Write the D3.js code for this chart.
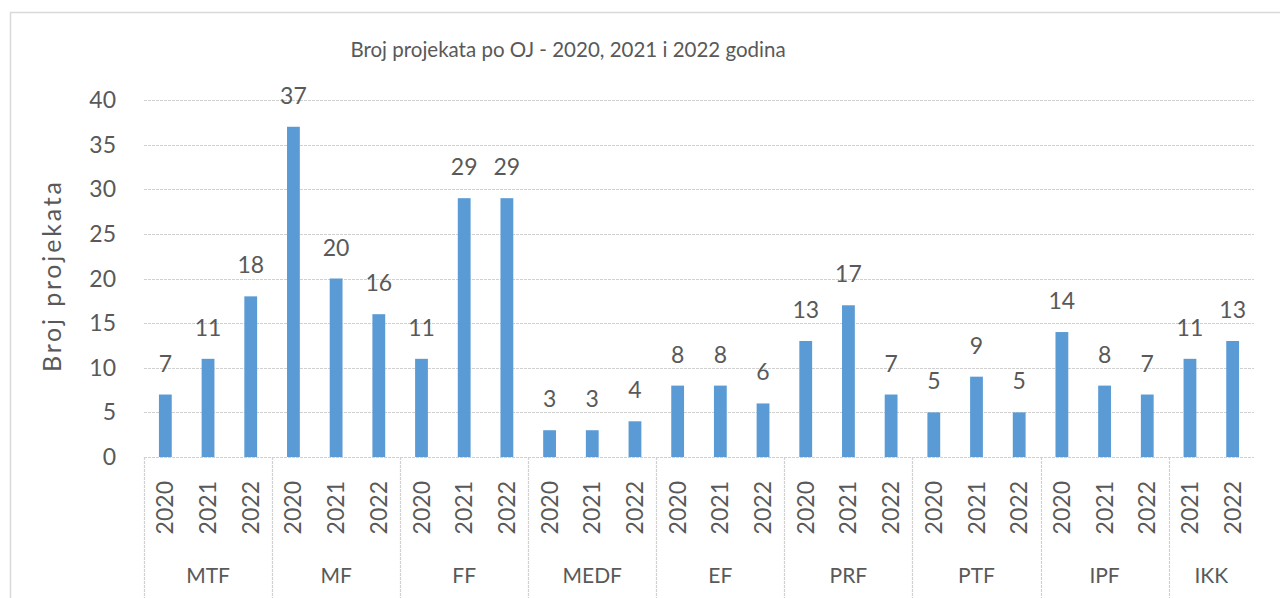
<!DOCTYPE html>
<html>
<head>
<meta charset="utf-8">
<script src="https://cdn.jsdelivr.net/npm/d3@7"></script>
<style>
    body { margin: 0; background: #fff; }
    text { font-family: Lato, "Open Sans", sans-serif; fill: #595959; }
</style>
</head>
<body>
<div id="chart"></div>
<script>
// data for the chart
var groups = ["MTF", "MF", "FF", "MEDF", "EF", "PRF", "PTF", "IPF", "IKK"];
var groupYears = [
    ["2020", "2021", "2022"],
    ["2020", "2021", "2022"],
    ["2020", "2021", "2022"],
    ["2020", "2021", "2022"],
    ["2020", "2021", "2022"],
    ["2020", "2021", "2022"],
    ["2020", "2021", "2022"],
    ["2020", "2021", "2022"],
    ["2021", "2022"]
];
var groupValues = [
    [7, 11, 18],
    [37, 20, 16],
    [11, 29, 29],
    [3, 3, 4],
    [8, 8, 6],
    [13, 17, 7],
    [5, 9, 5],
    [14, 8, 7],
    [11, 13]
];
var yTicks = [0, 5, 10, 15, 20, 25, 30, 35, 40];

var svgWidth = 1280, svgHeight = 598;
var margin = {left: 144, right: 26, top: 100, plotBottom: 457};

var svg = d3.select("#chart").append("svg")
    .attr("width", svgWidth)
    .attr("height", svgHeight);

// outer chart border
svg.append("rect")
    .attr("x", 10.5)
    .attr("y", 12.5)
    .attr("width", 1300)
    .attr("height", 640)
    .attr("fill", "none")
    .attr("stroke", "#d9d9d9")
    .attr("stroke-width", 1.5);

// flatten groups into bar records
var bars = [];
var groupSpans = [];
groups.forEach(function (g, gi) {
    var start = bars.length;
    groupYears[gi].forEach(function (yr, i) {
        bars.push({key: g + "-" + yr, group: g, year: yr, value: groupValues[gi][i]});
    });
    groupSpans.push({name: g, first: bars[start].key, last: bars[bars.length - 1].key});
});

var x = d3.scaleBand()
    .domain(bars.map(function (d) { return d.key; }))
    .range([margin.left, svgWidth - margin.right])
    .paddingInner(0.7)
    .paddingOuter(0.35);

var y = d3.scaleLinear()
    .domain([0, 40])
    .range([margin.plotBottom, margin.top]);

// gridlines
svg.append("g")
    .selectAll("line")
    .data(yTicks)
    .enter()
    .append("line")
    .attr("x1", margin.left)
    .attr("x2", svgWidth - margin.right)
    .attr("y1", function (d) { return Math.round(y(d)) + 0.5; })
    .attr("y2", function (d) { return Math.round(y(d)) + 0.5; })
    .attr("stroke", "#d0d0d0")
    .attr("stroke-width", 1.2)
    .attr("stroke-dasharray", "3,1");

// y tick labels
svg.append("g")
    .selectAll("text")
    .data(yTicks)
    .enter()
    .append("text")
    .attr("x", 116)
    .attr("y", function (d) { return y(d); })
    .attr("dy", "0.35em")
    .attr("text-anchor", "end")
    .style("font-size", "23px")
    .text(function (d) { return d; });

// y axis title
svg.append("text")
    .attr("transform", "translate(61,277) rotate(-90)")
    .attr("text-anchor", "middle")
    .attr("textLength", 190)
    .attr("lengthAdjust", "spacing")
    .style("font-size", "25px")
    .text("Broj projekata");

// title
svg.append("text")
    .attr("x", 568)
    .attr("y", 57)
    .attr("text-anchor", "middle")
    .style("font-size", "20.5px")
    .text("Broj projekata po OJ - 2020, 2021 i 2022 godina");

// bars
svg.append("g")
    .selectAll("rect")
    .data(bars)
    .enter()
    .append("rect")
    .attr("x", function (d) { return x(d.key); })
    .attr("y", function (d) { return y(d.value); })
    .attr("width", x.bandwidth())
    .attr("height", function (d) { return y(0) - y(d.value); })
    .attr("fill", "#5b9bd5");

// data labels
svg.append("g")
    .selectAll("text")
    .data(bars)
    .enter()
    .append("text")
    .attr("x", function (d) { return x(d.key) + x.bandwidth() / 2; })
    .attr("y", function (d) { return y(d.value) - 23; })
    .attr("text-anchor", "middle")
    .style("font-size", "23px")
    .text(function (d) { return d.value; });

// year labels (rotated)
svg.append("g")
    .selectAll("text")
    .data(bars)
    .enter()
    .append("text")
    .attr("transform", function (d) {
        return "translate(" + (x(d.key) + x.bandwidth() / 2) + ",481) rotate(-90)";
    })
    .attr("dy", "0.35em")
    .attr("text-anchor", "end")
    .style("font-size", "23px")
    .text(function (d) { return d.year; });

// group separators
var step = x.step();
var sepX = groupSpans.map(function (g) {
    return x(g.first) - step * x.paddingInner() / 2;
});
svg.append("g")
    .selectAll("line")
    .data(sepX)
    .enter()
    .append("line")
    .attr("x1", function (d) { return Math.round(d) + 0.5; })
    .attr("x2", function (d) { return Math.round(d) + 0.5; })
    .attr("y1", margin.plotBottom)
    .attr("y2", svgHeight)
    .attr("stroke", "#d0d0d0")
    .attr("stroke-width", 1.2)
    .attr("stroke-dasharray", "3,1");

// group labels
svg.append("g")
    .selectAll("text")
    .data(groupSpans)
    .enter()
    .append("text")
    .attr("x", function (g) {
        var a = x(g.first) - step * x.paddingInner() / 2;
        var b = x(g.last) + x.bandwidth() + step * x.paddingInner() / 2;
        return (a + b) / 2;
    })
    .attr("y", 583)
    .attr("text-anchor", "middle")
    .style("font-size", "21px")
    .text(function (g) { return g.name; });
</script>
</body>
</html>
